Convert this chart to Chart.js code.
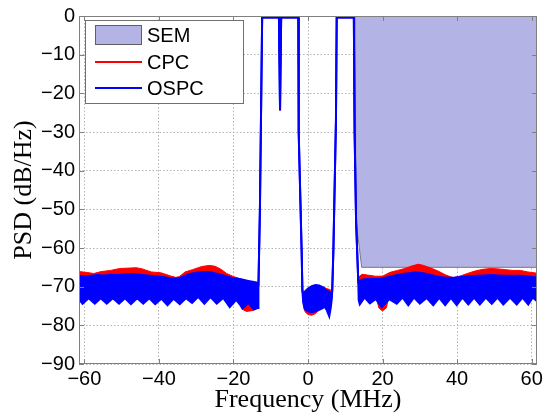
<!DOCTYPE html>
<html>
<head>
<meta charset="utf-8">
<script src="https://cdn.jsdelivr.net/npm/chart.js@4.4.1/dist/chart.umd.min.js"></script>
<style>
  html, body { margin: 0; padding: 0; background: #fff; }
  canvas { display: block; }
</style>
</head>
<body>
<canvas id="psdChart" width="551" height="416"></canvas>
<script>
// axis ticks
const freqTicks = [-60, -40, -20, 0, 20, 40, 60];
const psdTicks = [-90, -80, -70, -60, -50, -40, -30, -20, -10, 0];
const freqMin = -61.44, freqMax = 61.44;

// in-band parts (shared by both curves), [MHz, dB]
const band1 = [[-13.3,-70],[-12.9,-50],[-12.3,-0.4],[-7.8,-0.4],[-7.5,-24.4],[-7.2,-0.4],[-2.6,-0.4],[-2.5,-30],[-1.7,-61],[-1.5,-71]];
const band2 = [[6.5,-71],[6.8,-61],[7.5,-27],[7.7,-0.4],[12.3,-0.4],[12.5,-30],[12.9,-53],[13.2,-61],[13.5,-69]];

// OSPC out-of-band envelope (top / bottom)
const ospcTop = [
  [-61.44,-67.2],[-59.5,-67.4],[-58,-67.2],[-56.5,-67.0],[-55,-67.1],[-53,-66.9],[-51,-67.0],[-49,-66.8],[-47,-66.7],
  [-45,-66.9],[-43,-67.1],[-41,-67.3],[-39,-67.5],[-37,-67.8],[-35,-67.9],[-33.5,-67.4],[-32,-66.8],[-30,-66.4],
  [-28,-66.2],[-26,-66.3],[-24,-66.8],[-22,-67.3],[-20,-67.8],[-18,-68.1],[-16,-68.5],[-14.5,-68.8],[-13.4,-69.0],
  [-1.3,-72.0],[-0.8,-71.2],[0,-70.5],[1,-69.9],[2,-69.6],[3,-69.7],[4,-70.2],[5,-71.0],[6,-71.5],[6.4,-72.0],
  [13.6,-68.6],[15,-68.1],[17,-68.0],[19,-68.0],[21,-67.6],[23,-67.2],[25,-66.8],[27,-66.5],[29,-66.3],[31,-66.5],
  [33,-67.0],[35,-67.4],[37,-67.7],[39,-67.7],[41,-67.5],[43,-67.3],[45,-67.2],[47,-67.1],[49,-67.0],[51,-67.1],
  [53,-67.2],[55,-67.2],[57,-67.2],[59,-67.4],[61.44,-67.6]
];
const ospcBottom = [
  [-61.44,-73.2],[-60.5,-74.4],[-58.85,-73.0],[-57.2,-74.4],[-55.6,-73.0],[-54.0,-74.4],[-52.35,-73.0],[-50.7,-74.4],
  [-49.1,-73.0],[-47.5,-74.5],[-45.85,-73.0],[-44.2,-74.4],[-42.6,-73.0],[-41.0,-74.5],[-39.35,-73.1],[-37.7,-74.8],
  [-36.05,-73.1],[-34.4,-74.5],[-32.75,-73.0],[-31.1,-74.2],[-29.45,-72.6],[-27.8,-74.4],[-26.15,-72.7],[-24.5,-74.4],
  [-22.75,-72.9],[-21.0,-75.3],[-19.25,-73.4],[-17.5,-75.6],[-16.0,-74.2],[-14.5,-75.9],[-13.4,-75.5],
  [-1.3,-74.0],[-0.9,-75.8],[0,-76.4],[1,-76.6],[2,-76.4],[3,-76.0],[3.8,-75.6],[4.5,-75.2],[5.0,-76.0],[5.7,-77.7],
  [6.1,-75.5],[6.4,-73.0],
  [13.6,-73.5],[13.9,-74.6],[15.2,-72.8],[16.6,-74.3],[18.2,-73.2],[19.8,-75.3],[21.8,-73.2],[23.8,-74.4],[25.35,-72.8],
  [26.9,-74.8],[28.45,-72.8],[30.0,-74.4],[31.8,-72.9],[33.6,-74.8],[35.2,-72.9],[36.8,-74.8],[38.35,-72.9],[39.9,-74.8],
  [41.45,-72.8],[43.0,-74.6],[44.55,-72.8],[46.1,-74.6],[47.7,-72.8],[49.3,-74.4],[50.85,-72.8],[52.4,-74.6],[54.2,-72.8],
  [56.0,-74.6],[57.55,-72.8],[59.1,-74.6],[60.3,-72.8],[61.44,-73.8]
];

// CPC out-of-band envelope (top / bottom)
const cpcTop = [
  [-61.44,-66.1],[-59.5,-66.3],[-57.5,-66.6],[-55.5,-66.1],[-53,-65.8],[-50.5,-65.3],[-48,-65.2],[-46,-65.1],[-44.5,-65.4],
  [-42,-66.2],[-39.5,-66.4],[-37,-67.2],[-35.5,-67.6],[-34.5,-67.4],[-33,-66.2],[-31,-65.6],[-28.5,-64.8],[-26.5,-64.5],
  [-25,-64.7],[-23.5,-65.4],[-21.8,-66.6],[-20,-67.4],[-18,-68.0],[-16,-68.6],[-14.5,-69.0],[-13.4,-69.2],
  [-1.3,-72.0],[0,-70.6],[2,-69.6],[4,-70.0],[5,-70.5],[6,-70.8],[6.4,-71.5],
  [13.6,-67.5],[14.5,-66.8],[16,-67.0],[18,-67.3],[20,-67.3],[22,-66.3],[24,-65.8],[26,-65.3],[28,-64.6],[29.6,-64.2],
  [31,-64.5],[33,-65.2],[35,-66.0],[37,-67.0],[39,-67.7],[41,-67.2],[43,-66.5],[45,-65.9],[47,-65.5],[49,-65.3],
  [51,-65.4],[53,-65.6],[55,-65.8],[57,-65.8],[59,-66.2],[61.44,-66.5]
];
const cpcBottom = [
  [-61.44,-71.5],[-19,-71.5],[-17.8,-75.8],[-16.5,-76.4],[-15,-76.2],[-14,-75.8],[-13.4,-74.5],
  [-1.3,-74.0],[-0.8,-76.5],[0,-77.2],[1,-77.4],[2,-77.0],[3,-76.0],[4,-74.0],[6.4,-73.0],
  [13.6,-71.5],[18.0,-71.5],[19.0,-75.5],[20.0,-76.3],[21,-75.5],[22,-71.5],[61.44,-71.5]
];

// spectrum emission mask
const semMask = [[12.6,0],[12.9,-53],[14.4,-65],[61.44,-65]];

const semFill = 'rgb(179,179,230)';
const cpcColor = '#ff0000';
const ospcColor = '#0000ff';

function toPoints(noise) {
  return noise.concat(band1, band2)
    .sort((a, b) => a[0] - b[0])
    .map(p => ({ x: p[0], y: p[1] }));
}

function minusSign(v) {
  return String(v).replace('-', '\u2212');
}

// box, inward ticks and legend like the original figure
const figureDecor = {
  id: 'figureDecor',
  afterDatasetsDraw(chart) {
    const ctx = chart.ctx;
    const a = chart.chartArea;
    const xs = chart.scales.x, ys = chart.scales.y;
    ctx.save();
    ctx.strokeStyle = '#808080';
    ctx.lineWidth = 1;
    ctx.beginPath();
    freqTicks.forEach(v => {
      const px = Math.round(xs.getPixelForValue(v)) + 0.5;
      ctx.moveTo(px, a.bottom); ctx.lineTo(px, a.bottom - 5);
      ctx.moveTo(px, a.top); ctx.lineTo(px, a.top + 5);
    });
    psdTicks.forEach(v => {
      const py = Math.round(ys.getPixelForValue(v)) + 0.5;
      ctx.moveTo(a.left, py); ctx.lineTo(a.left + 5, py);
      ctx.moveTo(a.right, py); ctx.lineTo(a.right - 5, py);
    });
    ctx.stroke();
    ctx.strokeRect(Math.round(a.left) + 0.5, Math.round(a.top) + 0.5,
      Math.round(a.right - a.left) - 1, Math.round(a.bottom - a.top) - 1);
    ctx.restore();
  },
  afterDraw(chart) {
    const ctx = chart.ctx;
    ctx.save();
    ctx.fillStyle = '#fff';
    ctx.fillRect(85, 20, 159, 84);
    ctx.strokeStyle = '#707070';
    ctx.lineWidth = 1;
    ctx.strokeRect(85.5, 20.5, 158, 83);

    ctx.fillStyle = semFill;
    ctx.fillRect(95, 25, 47, 20);
    ctx.strokeStyle = '#606060';
    ctx.strokeRect(95.5, 25.5, 46, 19);

    ctx.lineWidth = 2;
    ctx.strokeStyle = cpcColor;
    ctx.beginPath(); ctx.moveTo(95, 62); ctx.lineTo(142, 62); ctx.stroke();
    ctx.strokeStyle = ospcColor;
    ctx.beginPath(); ctx.moveTo(95, 88); ctx.lineTo(142, 88); ctx.stroke();

    ctx.fillStyle = '#000';
    ctx.font = '20px "Liberation Sans", Arial, sans-serif';
    ctx.textBaseline = 'middle';
    ctx.textAlign = 'left';
    ctx.fillText('SEM', 147, 36);
    ctx.fillText('CPC', 147, 63);
    ctx.fillText('OSPC', 147, 89);
    ctx.restore();
  }
};

const tickFont = { family: '"Liberation Sans", Arial, sans-serif', size: 20 };
const titleFont = { family: '"Liberation Serif", "Times New Roman", serif', size: 26 };
const gridStyle = { color: '#b4b4b4', lineWidth: 1, drawTicks: false };

new Chart(document.getElementById('psdChart'), {
  type: 'line',
  data: {
    datasets: [
      { label: 'OSPC', data: toPoints(ospcTop), borderColor: ospcColor, borderWidth: 2, fill: false },
      { label: 'OSPC low', data: toPoints(ospcBottom), borderColor: ospcColor, borderWidth: 2,
        backgroundColor: ospcColor, fill: '-1' },
      { label: 'CPC', data: toPoints(cpcTop), borderColor: cpcColor, borderWidth: 1, fill: false },
      { label: 'CPC low', data: toPoints(cpcBottom), borderColor: cpcColor, borderWidth: 1,
        backgroundColor: cpcColor, fill: '-1' },
      { label: 'SEM', data: semMask.map(p => ({ x: p[0], y: p[1] })), borderColor: '#7a7a7a', borderWidth: 1,
        backgroundColor: semFill, fill: 'end' }
    ]
  },
  options: {
    responsive: false,
    animation: false,
    devicePixelRatio: 1,
    parsing: false,
    elements: { point: { radius: 0 }, line: { tension: 0 } },
    layout: { padding: { top: 13, right: 14, left: 0, bottom: 0 } },
    plugins: { legend: { display: false }, tooltip: { enabled: false } },
    scales: {
      x: {
        type: 'linear',
        min: freqMin,
        max: freqMax,
        afterBuildTicks: s => { s.ticks = freqTicks.map(v => ({ value: v })); },
        afterFit: s => { s.height = 52; },
        grid: gridStyle,
        border: { display: false, dash: [1.5, 2] },
        ticks: { font: tickFont, color: '#000', padding: 3, maxRotation: 0, callback: minusSign },
        title: { display: true, text: 'Frequency (MHz)', font: titleFont, color: '#000', padding: 0 }
      },
      y: {
        type: 'linear',
        min: -90,
        max: 0,
        afterBuildTicks: s => { s.ticks = psdTicks.map(v => ({ value: v })); },
        afterFit: s => { s.width = 79; },
        grid: gridStyle,
        border: { display: false, dash: [1.5, 2] },
        ticks: { font: tickFont, color: '#000', padding: 4, callback: minusSign },
        title: { display: true, text: 'PSD (dB/Hz)', font: titleFont, color: '#000', padding: { top: 9, bottom: 0 } }
      }
    }
  },
  plugins: [figureDecor]
});
</script>
</body>
</html>
